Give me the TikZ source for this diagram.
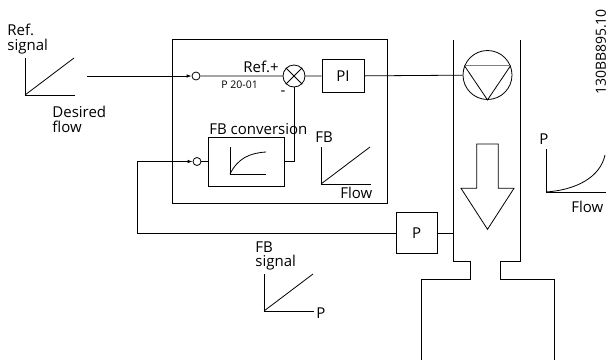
\documentclass[tikz,border=0pt]{standalone}
\usepackage{fontspec}
\setmainfont{Open Sans}
\usetikzlibrary{positioning,arrows.meta}
\tikzset{textnode/.style={inner sep=0pt, anchor=north west, align=left, font=\fontsize{15}{14.5}\selectfont},
  boxnode/.style={draw, inner sep=0pt, font=\fontsize{15}{15}\selectfont},
  portnode/.style={circle, draw, inner sep=0pt, minimum size=8pt},
  signal/.style={-{Latex[length=5pt,width=3.5pt]}}}

\begin{document}
\begin{tikzpicture}[x=1pt,y=-1pt,line width=0.8pt]
\useasboundingbox (0,0) rectangle (611,360);
\draw (172,39) rectangle (387,203);
\node[portnode] (in1) at (196,76) {};
\node[portnode] (in2) at (197,161.5) {};
\node[portnode, minimum size=22pt] (sum) at (294,76) {};
\draw (sum.north west) -- (sum.south east) (sum.north east) -- (sum.south west);
\node[boxnode, minimum width=42pt, minimum height=33pt] (pi) at (343,76) {PI};
\node[boxnode, minimum width=76pt, minimum height=49pt] (conv) at (246.7,161.5) {};
\node[boxnode, minimum width=41pt, minimum height=40.5pt] (sensor) at (416.7,233) {P};
\node[portnode, minimum size=49pt] (pump) at (487.5,75) {};
\draw[gray] (pump.22) -- (pump.158);
\draw (pump.158) -- (pump.270) -- (pump.22);

\draw (453,40) -- (453,261) -- (470,261) -- (470,279) -- (421.7,279) -- (421.7,360);
\draw (520,40) -- (520,261) -- (500,261) -- (500,279) -- (554,279) -- (554,360);
\draw (476.7,144) -- (498.3,144) -- (498.3,188.3) -- (514,188.3) -- (487.5,229.3) -- (461,188.3) -- (476.7,188.3) -- cycle;

\coordinate (refout) at (87,76);
\coordinate (fbturn) at (137,233);
\coordinate (wall) at (453,233);
\draw[signal] (refout) -- (in1);
\draw (in1) -- (sum) -- (pi) -- (pump);
\draw[signal] (sensor) -- (fbturn) |- (in2);
\draw (in2) -- (conv);
\draw (conv) -| (sum);
\draw (sensor) -- (wall);

\foreach \gx/\gy in {25/95, 321/184, 264/311}{
	\draw (\gx,\gy-37) -- (\gx,\gy) -- (\gx+50,\gy);
	\draw (\gx,\gy) -- (\gx+49,\gy-37);
}
\draw (230,147) -- (230,174) -- (266,174);
\draw (230,174) .. controls (238,158) and (250,153) .. (266,152);
\draw (546,149) -- (546,192) -- (606,192);
\draw (546,192) .. controls (575,190) and (600,178) .. (605,155);

\node[textnode] (reflbl) at (7,24) {Ref.\\signal};
\node[textnode] (flowlbl) at (52,106) {Desired\\flow};
\node[textnode] (refplus) at (243,61) {Ref.+};
\node[textnode, font=\fontsize{10.5}{12}\selectfont] (par) at (221,80) {P 20-01};
\node[textnode, anchor=center] (minus) at (283,93) {-};
\node[textnode] (convlbl) at (209,123) {FB conversion};
\node[textnode] (fblbl) at (315,131) {FB};
\node[textnode] (flowin) at (340,187) {Flow};
\node[textnode] (plbl) at (539,133) {P};
\node[textnode] (flowout) at (571,201) {Flow};
\node[textnode] (fbsig) at (255,241) {FB\\signal};
\node[textnode] (psig) at (316,307) {P};
\node[textnode, anchor=center, rotate=90, font=\fontsize{14}{14}\selectfont] (code) at (601,52) {130BB895.10};
\end{tikzpicture}
\end{document}
